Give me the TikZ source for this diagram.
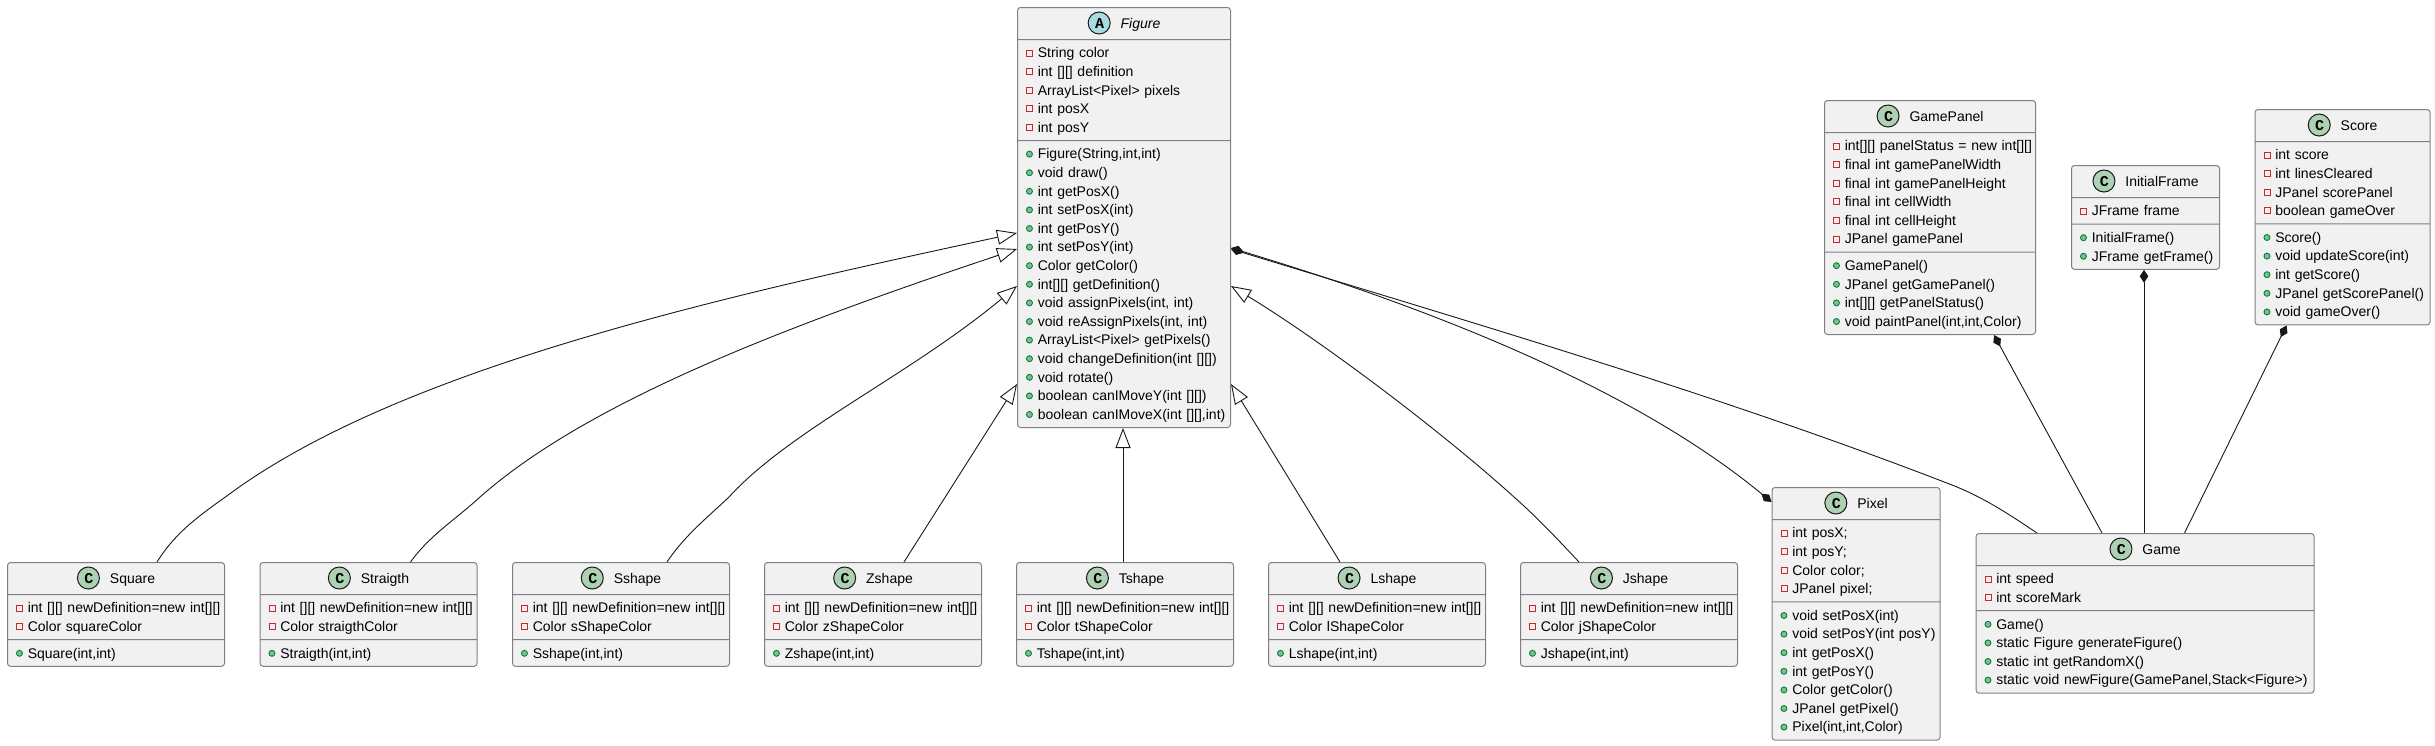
\documentclass[tikz,border=0pt]{standalone}
\usepackage{fontspec}
\setmainfont{Liberation Sans}
\setmonofont{Liberation Mono}
\usepackage{xcolor}
\usetikzlibrary{arrows.meta, calc, shapes.multipart}

\definecolor{boxline}{HTML}{808080}
\definecolor{boxfill}{HTML}{F1F1F1}
\definecolor{edgeline}{HTML}{181818}
\definecolor{spotclass}{HTML}{ADD1B2}
\definecolor{spotabstract}{HTML}{A9DCDF}
\definecolor{privline}{HTML}{C82930}
\definecolor{publine}{HTML}{038048}
\definecolor{pubfill}{HTML}{84BE84}

% member rows and the class header
\newcommand{\rowstrut}{\rule[-4.2pt]{0pt}{18.6pt}}
\newcommand{\priv}[1]{\mbox{\rowstrut\makebox[11.8pt][l]{\tikz[baseline=-4.8pt]\draw[sharp corners, draw=privline, line width=0.9pt] (0pt,-3pt) rectangle (6pt,3pt);}#1}}
\newcommand{\pub}[1]{\mbox{\rowstrut\makebox[11.8pt][l]{\tikz[baseline=-4.8pt]\draw[draw=publine, fill=pubfill, line width=0.9pt] (3pt,0pt) circle[radius=3pt];}#1}}
\newcommand{\head}[3]{\makebox[\hsize]{\rule[-6.7pt]{0pt}{24pt}\tikz[baseline=-5.8pt]\draw[draw=edgeline, fill=#1, line width=1pt] (0pt,0pt) circle[radius=11pt];\hspace{-22pt}\makebox[22pt]{\raisebox{0.8pt}{\ttfamily\bfseries\fontsize{15}{15}\selectfont #2}}\hspace{10pt}#3}}

\begin{document}
\begin{tikzpicture}[
    x=1pt, y=-1pt,
    classbox/.style={rectangle split, rectangle split parts=3, draw=boxline, fill=boxfill,
                rounded corners=3pt, line width=1pt, inner xsep=8.5pt, inner ysep=3.5pt,
                anchor=north west, align=left, text width=#1,
                font=\fontsize{14}{18.6}\selectfont},
    inherit/.style={-{Triangle[open, fill=white, length=20pt, width=15pt]}, edgeline, line width=0.9pt},
    compose/.style={{Diamond[length=13pt, width=8.5pt]}-, edgeline, line width=0.9pt},
    composeboth/.style={{Diamond[length=13pt, width=8.5pt]}-{Diamond[length=13pt, width=8.5pt]}, edgeline, line width=0.9pt}
]
\useasboundingbox (0,0) rectangle (2435,745);

% Figure
\node[classbox=196pt] (figure) at (1017,7) {\head{spotabstract}{A}{\itshape Figure}
\nodepart{two}\priv{String color}\\\priv{int [][] definition}\\\priv{ArrayList<Pixel> pixels}\\\priv{int posX}\\\priv{int posY}
\nodepart{three}\pub{Figure(String,int,int)}\\\pub{void draw()}\\\pub{int getPosX()}\\\pub{int setPosX(int)}\\\pub{int getPosY()}\\\pub{int setPosY(int)}\\\pub{Color getColor()}\\\pub{int[][] getDefinition()}\\\pub{void assignPixels(int, int)}\\\pub{void reAssignPixels(int, int)}\\\pub{ArrayList<Pixel> getPixels()}\\\pub{void changeDefinition(int [][])}\\\pub{void rotate()}\\\pub{boolean canIMoveY(int [][])}\\\pub{boolean canIMoveX(int [][],int)}};

% Shapes
\node[classbox=200pt] (square) at (7,562) {\head{spotclass}{C}{Square}
\nodepart{two}\priv{int [][] newDefinition=new int[][]}\\\priv{Color squareColor}
\nodepart{three}\pub{Square(int,int)}};
\node[classbox=200pt] (straigth) at (259.5,562) {\head{spotclass}{C}{Straigth}
\nodepart{two}\priv{int [][] newDefinition=new int[][]}\\\priv{Color straigthColor}
\nodepart{three}\pub{Straigth(int,int)}};
\node[classbox=200pt] (sshape) at (512,562) {\head{spotclass}{C}{Sshape}
\nodepart{two}\priv{int [][] newDefinition=new int[][]}\\\priv{Color sShapeColor}
\nodepart{three}\pub{Sshape(int,int)}};
\node[classbox=200pt] (zshape) at (764,562) {\head{spotclass}{C}{Zshape}
\nodepart{two}\priv{int [][] newDefinition=new int[][]}\\\priv{Color zShapeColor}
\nodepart{three}\pub{Zshape(int,int)}};
\node[classbox=200pt] (tshape) at (1016,562) {\head{spotclass}{C}{Tshape}
\nodepart{two}\priv{int [][] newDefinition=new int[][]}\\\priv{Color tShapeColor}
\nodepart{three}\pub{Tshape(int,int)}};
\node[classbox=200pt] (lshape) at (1268,562) {\head{spotclass}{C}{Lshape}
\nodepart{two}\priv{int [][] newDefinition=new int[][]}\\\priv{Color lShapeColor}
\nodepart{three}\pub{Lshape(int,int)}};
\node[classbox=200pt] (jshape) at (1520,562) {\head{spotclass}{C}{Jshape}
\nodepart{two}\priv{int [][] newDefinition=new int[][]}\\\priv{Color jShapeColor}
\nodepart{three}\pub{Jshape(int,int)}};

% Pixel and Game
\node[classbox=151pt] (pixel) at (1771.5,487) {\head{spotclass}{C}{Pixel}
\nodepart{two}\priv{int posX;}\\\priv{int posY;}\\\priv{Color color;}\\\priv{JPanel pixel;}
\nodepart{three}\pub{void setPosX(int)}\\\pub{void setPosY(int posY)}\\\pub{int getPosX()}\\\pub{int getPosY()}\\\pub{Color getColor()}\\\pub{JPanel getPixel()}\\\pub{Pixel(int,int,Color)}};
\node[classbox=321pt] (game) at (1975.5,533) {\head{spotclass}{C}{Game}
\nodepart{two}\priv{int speed}\\\priv{int scoreMark}
\nodepart{three}\pub{Game()}\\\pub{static Figure generateFigure()}\\\pub{static int getRandomX()}\\\pub{static void newFigure(GamePanel,Stack<Figure>)}};

% Panels
\node[classbox=194pt] (gamepanel) at (1824,100) {\head{spotclass}{C}{GamePanel}
\nodepart{two}\priv{int[][] panelStatus = new int[][]}\\\priv{final int gamePanelWidth}\\\priv{final int gamePanelHeight}\\\priv{final int cellWidth}\\\priv{final int cellHeight}\\\priv{JPanel gamePanel}
\nodepart{three}\pub{GamePanel()}\\\pub{JPanel getGamePanel()}\\\pub{int[][] getPanelStatus()}\\\pub{void paintPanel(int,int,Color)}};
\node[classbox=131pt] (initialframe) at (2071,165) {\head{spotclass}{C}{InitialFrame}
\nodepart{two}\priv{JFrame frame}
\nodepart{three}\pub{InitialFrame()}\\\pub{JFrame getFrame()}};
\node[classbox=158pt] (score) at (2254.5,109) {\head{spotclass}{C}{Score}
\nodepart{two}\priv{int score}\\\priv{int linesCleared}\\\priv{JPanel scorePanel}\\\priv{boolean gameOver}
\nodepart{three}\pub{Score()}\\\pub{void updateScore(int)}\\\pub{int getScore()}\\\pub{JPanel getScorePanel()}\\\pub{void gameOver()}};

% Inheritance
\draw[inherit] ($(square.north west)+(150,0)$) .. controls (178,528) and (208,510) .. (235,490)
      .. controls (410,365) and (730,295) .. ($(figure.north west)+(0,226)$);
\draw[inherit] ($(straigth.north west)+(151,0)$) .. controls (430,535) and (455,520) .. (480,497)
      .. controls (590,400) and (790,325) .. ($(figure.north west)+(0,242)$);
\draw[inherit] ($(sshape.north west)+(155,0)$) .. controls (685,535) and (708,517) .. (729,497)
      .. controls (790,430) and (910,375) .. ($(figure.north west)+(0,279)$);
\draw[inherit] ($(zshape.north west)+(140,0)$) -- ($(figure.north west)+(0,377)$);
\draw[inherit] ($(tshape.north west)+(107,0)$) -- ($(figure.south west)+(106,0)$);
\draw[inherit] ($(lshape.north west)+(72,0)$) -- ($(figure.north east)+(0,377)$);
\draw[inherit] ($(jshape.north west)+(59,0)$) .. controls (1563,545) and (1538,518) .. (1514,497)
      .. controls (1440,430) and (1320,340) .. ($(figure.north east)+(0,279)$);

% Composition
\draw[composeboth] ($(figure.north east)+(0,241)$) .. controls (1420,305) and (1630,385) .. ($(pixel.north west)+(0,15)$);
\draw[compose] ($(figure.north east)+(0,242)$) .. controls (1470,322) and (1720,395) .. (1952,485)
      .. controls (1985,498) and (2010,515) .. ($(game.north west)+(61.5,0)$);
\draw[compose] ($(gamepanel.south west)+(170,0)$) -- ($(game.north west)+(126.5,0)$);
\draw[compose] ($(initialframe.south west)+(73,0)$) -- ($(game.north west)+(168.5,0)$);
\draw[compose] ($(score.south west)+(32,0)$) -- ($(game.north west)+(209,0)$);

\end{tikzpicture}
\end{document}
